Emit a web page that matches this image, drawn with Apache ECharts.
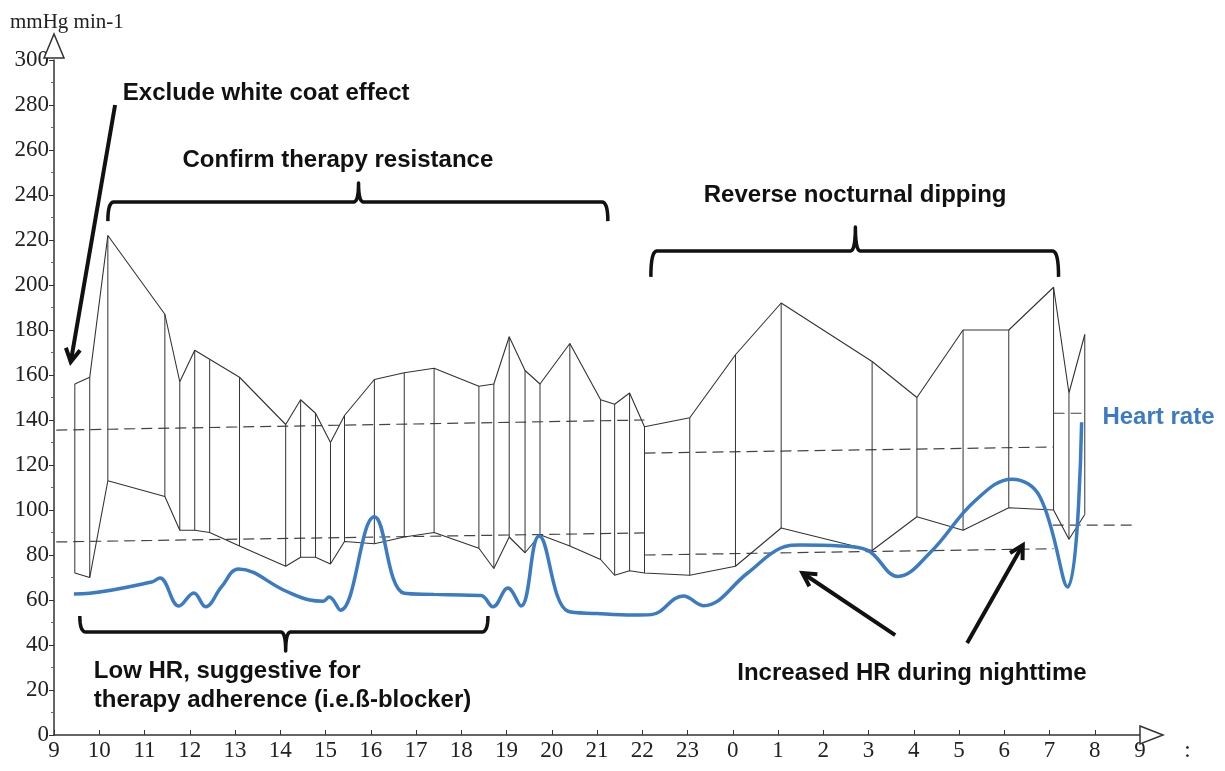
<!DOCTYPE html>
<html>
<head>
<meta charset="utf-8">
<title>ABPM 24h</title>
<script src="https://cdn.jsdelivr.net/npm/echarts/dist/echarts.min.js"></script>
<style>
  html, body { margin: 0; padding: 0; background: #fff; }
  #echart-line { width: 1225px; height: 771px; }
</style>
</head>
<body>
<div id="echart-line"></div>
<script>
// time in decimal hours from 9:00, night goes on past 24
const measTime = [9.46, 9.79, 10.19, 11.45, 11.78, 12.11, 12.44, 13.10, 14.12, 14.45, 14.78, 15.11, 15.42, 16.08, 16.74, 17.40, 18.39, 18.72, 19.06, 19.41, 19.74, 20.40, 21.08, 21.39, 21.72, 22.05, 23.05, 24.06, 25.07, 27.08, 28.07, 29.09, 30.10, 31.09, 31.43, 31.78];
const sysBP = [156, 159, 222, 187, 157, 171, 167, 159, 138, 149, 143, 130, 142, 158, 161, 163, 155, 156, 177, 162, 156, 174, 149, 147, 152, 137, 141, 169, 192, 166, 150, 180, 180, 199, 152, 178];
const diaBP = [72, 70, 113, 106, 91, 91, 90, 84, 75, 79, 79, 76, 86, 85, 88, 90, 83, 74, 88, 81, 89, 84, 78, 71, 73, 72, 71, 75, 92, 82, 97, 91, 101, 100, 87, 98];

const hrTime = [9.44, 9.79, 11.16, 11.34, 11.76, 12.09, 12.35, 12.70, 13.08, 14.12, 14.65, 14.95, 15.08, 15.33, 16.08, 16.74, 17.40, 18.00, 18.44, 18.70, 19.03, 19.32, 19.72, 20.36, 21.00, 21.80, 22.20, 22.91, 23.35, 24.33, 25.05, 25.49, 26.38, 26.97, 27.65, 28.36, 29.35, 30.17, 30.79, 31.40, 31.71];
const hrValue = [62.7, 63, 68, 69.8, 57.3, 63.1, 57, 65.8, 73.8, 64, 60, 59.5, 61.3, 55.5, 97, 63, 62.5, 62.2, 62, 57, 65.3, 57.3, 88.4, 55, 54, 53.3, 53.5, 61.8, 57.5, 72, 83, 84.4, 84, 82.2, 70.5, 81, 104, 113.7, 105.8, 65.8, 139];

// dashed limit lines [start, end] as [time, value]
const limDayUpper = [[9.05, 135.5], [22.05, 140]];
const limDayLower = [[9.05, 85.8], [22.05, 89.8]];
const limNightUpper = [[22.05, 125.3], [31.09, 128]];
const limNightLower = [[22.05, 80], [31.09, 82.8]];
const limEndUpper = [[31.09, 143], [31.78, 143]];
const limEndLower = [[31.07, 93.3], [32.84, 93.3]];

const hourLabels = ['9', '10', '11', '12', '13', '14', '15', '16', '17', '18', '19', '20', '21', '22', '23', '0', '1', '2', '3', '4', '5', '6', '7', '8', '9'];

// annotation text [text, time, value] (left / middle anchor)
const notes = [
  ['Exclude white coat effect', 10.52, 285.3],
  ['Confirm therapy resistance', 11.84, 255.6],
  ['Reverse nocturnal dipping', 23.36, 240],
  ['Low HR, suggestive for', 9.88, 28.4],
  ['therapy adherence (i.e.ß-blocker)', 9.88, 15.6],
  ['Increased HR during nighttime', 24.1, 27.6]
];

const hrColor = '#3a7bc3';
const inkColor = '#333';

let getchart = echarts.init(document.getElementById('echart-line'));

function dashed(data) {
  return {
    type: 'line', data: data, symbol: 'none', silent: true,
    lineStyle: { color: '#444', width: 1.2, type: [11, 6] }, z: 1
  };
}

let option = {
  animation: false,
  grid: { left: 54, right: 85, top: 60, bottom: 36, containLabel: false, outerBoundsMode: 'none' },
  xAxis: {
    type: 'value', min: 9, max: 33, interval: 1,
    axisLine: { lineStyle: { color: inkColor, width: 1.5 } },
    axisTick: { inside: true, length: 5, lineStyle: { color: inkColor } },
    splitLine: { show: false },
    axisLabel: {
      margin: 4, color: '#222', fontFamily: 'Liberation Serif', fontSize: 23,
      formatter: function (v) { return hourLabels[Math.round(v - 9)]; }
    }
  },
  yAxis: {
    type: 'value', min: 0, max: 300, interval: 20,
    axisLine: { show: true, lineStyle: { color: inkColor, width: 1.5 } },
    axisTick: { show: true, length: 5, lineStyle: { color: inkColor } },
    minorTick: { show: true, splitNumber: 2, length: 3, lineStyle: { color: '#666' } },
    splitLine: { show: false },
    axisLabel: { margin: 5, color: '#222', fontFamily: 'Liberation Serif', fontSize: 23 }
  },
  series: [
    dashed(limDayUpper), dashed(limDayLower),
    dashed(limNightUpper), dashed(limNightLower),
    dashed(limEndUpper), dashed(limEndLower),
    {
      // vertical line per measurement, systolic down to diastolic
      type: 'custom', silent: true, z: 2,
      encode: { x: 0, y: [1, 2] },
      data: measTime.map((t, i) => [t, sysBP[i], diaBP[i]]),
      renderItem: function (params, api) {
        let top = api.coord([api.value(0), api.value(1)]);
        let bot = api.coord([api.value(0), api.value(2)]);
        return {
          type: 'line',
          shape: { x1: top[0], y1: top[1], x2: bot[0], y2: bot[1] },
          style: { stroke: inkColor, lineWidth: 1 }
        };
      }
    },
    {
      name: 'systolic', type: 'line', symbol: 'none', silent: true, z: 3,
      data: measTime.map((t, i) => [t, sysBP[i]]),
      lineStyle: { color: inkColor, width: 1.1 }
    },
    {
      name: 'diastolic', type: 'line', symbol: 'none', silent: true, z: 3,
      data: measTime.map((t, i) => [t, diaBP[i]]),
      lineStyle: { color: inkColor, width: 1.1 }
    },
    {
      name: 'Heart rate', type: 'line', symbol: 'none', silent: true, z: 5,
      smooth: 0.4,
      data: hrTime.map((t, i) => [t, hrValue[i]]),
      lineStyle: { color: hrColor, width: 3.5 }
    }
  ]
};

getchart.setOption(option);

// annotations placed through the axes
function px(t, v) {
  return getchart.convertToPixel({ xAxisIndex: 0, yAxisIndex: 0 }, [t, v]);
}

// points of a quadratic curve
function quad(p0, p1, p2) {
  let pts = [];
  for (let i = 0; i <= 8; i++) {
    let s = i / 8;
    pts.push([
      (1 - s) * (1 - s) * p0[0] + 2 * (1 - s) * s * p1[0] + s * s * p2[0],
      (1 - s) * (1 - s) * p0[1] + 2 * (1 - s) * s * p1[1] + s * s * p2[1]
    ]);
  }
  return pts;
}

function brace(t1, t2, tn, vBar, vEnd, vTip) {
  let L = px(t1, vEnd), Lb = px(t1, vBar), R = px(t2, vEnd), Rb = px(t2, vBar);
  let N = px(tn, vBar), T = px(tn, vTip);
  let r = 6;
  let pts = []
    .concat(quad(L, Lb, [Lb[0] + r, Lb[1]]))
    .concat(quad([N[0] - 5, N[1]], N, T))
    .concat(quad(T, N, [N[0] + 5, N[1]]))
    .concat(quad([Rb[0] - r, Rb[1]], Rb, R));
  return { type: 'polyline', shape: { points: pts }, style: { stroke: '#111', lineWidth: 3.5, fill: null, lineJoin: 'round' }, z: 10 };
}

function arrow(tTail, vTail, tTip, vTip) {
  let a = px(tTail, vTail), b = px(tTip, vTip);
  let ang = Math.atan2(b[1] - a[1], b[0] - a[0]);
  let len = 15, spread = 0.5;
  let h1 = [b[0] - len * Math.cos(ang - spread), b[1] - len * Math.sin(ang - spread)];
  let h2 = [b[0] - len * Math.cos(ang + spread), b[1] - len * Math.sin(ang + spread)];
  return [
    { type: 'line', shape: { x1: a[0], y1: a[1], x2: b[0], y2: b[1] }, style: { stroke: '#111', lineWidth: 4 }, z: 10 },
    { type: 'polyline', shape: { points: [h1, b, h2] }, style: { stroke: '#111', lineWidth: 4, fill: null }, z: 10 }
  ];
}

let g = [];
notes.forEach(n => {
  let p = px(n[1], n[2]);
  g.push({ type: 'text', x: p[0], y: p[1], z: 10,
    style: { text: n[0], fill: '#111', font: 'bold 24px "Liberation Sans"', align: 'left', verticalAlign: 'middle' } });
});
let hp = px(32.17, 141.3);
g.push({ type: 'text', x: hp[0], y: hp[1], z: 10,
  style: { text: 'Heart rate', fill: hrColor, font: 'bold 24px "Liberation Sans"', align: 'left', verticalAlign: 'middle' } });

g.push(brace(10.19, 21.24, 15.73, 236.9, 228.4, 245.3));
g.push(brace(22.19, 31.2, 26.71, 215.1, 203.6, 225.8));
g.push(brace(9.57, 18.59, 14.12, 45.8, 52.9, 37.3));

g = g.concat(arrow(10.35, 280, 9.37, 165.8));
g = g.concat(arrow(27.59, 44.4, 25.54, 72));
g = g.concat(arrow(29.18, 40.9, 30.41, 84.4));

// axis label and hollow arrow heads
let o = px(9, 300);
g.push({ type: 'text', x: 10, y: 22, z: 10,
  style: { text: 'mmHg min-1', fill: '#222', font: '21px "Liberation Serif"', align: 'left', verticalAlign: 'middle' } });
g.push({ type: 'polygon', z: 10, shape: { points: [[o[0] - 10, o[1] - 2], [o[0], o[1] - 26], [o[0] + 10, o[1] - 2]] },
  style: { fill: '#fff', stroke: inkColor, lineWidth: 1.5 } });
let e = px(33, 0);
g.push({ type: 'polygon', z: 10, shape: { points: [[e[0], e[1] - 9], [e[0] + 23, e[1]], [e[0], e[1] + 9]] },
  style: { fill: '#fff', stroke: inkColor, lineWidth: 1.5 } });
let c = px(34.05, 0);
g.push({ type: 'text', x: c[0], y: c[1] + 4, z: 10,
  style: { text: ':', fill: '#222', font: '23px "Liberation Serif"', align: 'center', verticalAlign: 'top' } });

getchart.setOption({ graphic: g });

window.addEventListener('resize', () => {
  getchart.resize();
});
</script>
</body>
</html>
